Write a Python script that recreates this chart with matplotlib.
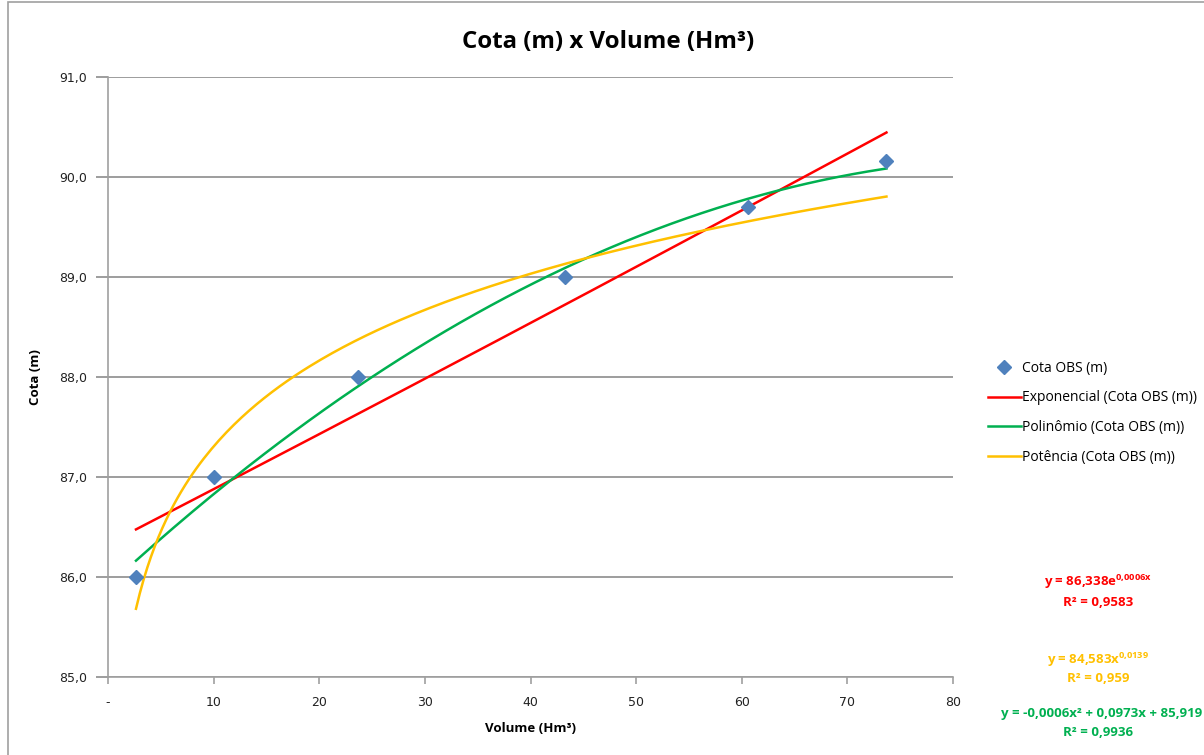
import numpy as np
import matplotlib.pyplot as plt
from matplotlib.patches import Rectangle

plt.rcParams["mathtext.fontset"] = "custom"
plt.rcParams["mathtext.rm"] = "Open Sans:bold"
plt.rcParams["mathtext.it"] = "Open Sans:bold"
plt.rcParams["mathtext.bf"] = "Open Sans:bold"

volume = np.array([2.65, 10.0, 23.7, 43.3, 60.6, 73.7])
cota = np.array([86.0, 87.0, 88.0, 89.0, 89.7, 90.16])

x_ticks = [0, 10, 20, 30, 40, 50, 60, 70, 80]
x_ticklabels = ["-", "10", "20", "30", "40", "50", "60", "70", "80"]
y_ticks = [85, 86, 87, 88, 89, 90, 91]
y_ticklabels = ["85,0", "86,0", "87,0", "88,0", "89,0", "90,0", "91,0"]

c_pts = "#4F81BD"
c_exp = "#FF0000"
c_pol = "#00B050"
c_pot = "#FFC000"

# trendlines fitted the way Excel does
xs = np.linspace(volume.min(), volume.max(), 200)
b_exp, ln_a = np.polyfit(volume, np.log(cota), 1)
y_exp = np.exp(ln_a) * np.exp(b_exp * xs)
p_pol = np.polyfit(volume, cota, 2)
y_pol = np.polyval(p_pol, xs)
b_pot, ln_ap = np.polyfit(np.log(volume), np.log(cota), 1)
y_pot = np.exp(ln_ap) * xs ** b_pot

fig = plt.figure(figsize=(12.04, 7.55), dpi=100)
fig.patches.append(Rectangle((8 / 1204, -0.1), 1.2, 1.1 - 2 / 755, transform=fig.transFigure,
                             fill=False, edgecolor="#A0A0A0", lw=1.2))

ax = fig.add_axes([108 / 1204, 78 / 755, 845 / 1204, 600 / 755])
ax.plot(volume, cota, linestyle="none", marker="D", markersize=7.5, color=c_pts,
        label="Cota OBS (m)", zorder=5)
ax.plot(xs, y_exp, color=c_exp, lw=1.8, label="Exponencial (Cota OBS (m))")
ax.plot(xs, y_pol, color=c_pol, lw=1.8, label="Polinômio (Cota OBS (m))")
ax.plot(xs, y_pot, color=c_pot, lw=1.8, label="Potência (Cota OBS (m))")

ax.set_xlim(0, 80)
ax.set_ylim(85, 91)
ax.set_xticks(x_ticks)
ax.set_xticklabels(x_ticklabels)
ax.set_yticks(y_ticks)
ax.set_yticklabels(y_ticklabels)
ax.yaxis.grid(True, color="#8C8C8C", lw=1.2)
ax.set_axisbelow(True)
for s in ["top", "right"]:
    ax.spines[s].set_visible(False)
for s in ["left", "bottom"]:
    ax.spines[s].set_color("#A0A0A0")
    ax.spines[s].set_linewidth(1.2)
ax.tick_params(axis="y", direction="out", length=9, width=1.2, color="#8C8C8C",
               labelsize=9, pad=6)
ax.tick_params(axis="x", direction="out", length=5, width=1.2, color="#A0A0A0",
               labelsize=9, pad=9)
for lab in ax.get_xticklabels() + ax.get_yticklabels():
    lab.set_family("DejaVu Sans")
    lab.set_color("#222222")

ax.set_xlabel("Volume (Hm³)", family="Open Sans", fontweight="bold", fontsize=9.5, labelpad=9)
ax.set_ylabel("Cota (m)", family="Open Sans", fontweight="bold", fontsize=9.5, labelpad=12)
fig.text(608 / 1204, 1 - 42 / 755, "Cota (m) x Volume (Hm³)", ha="center", va="center",
         family="Open Sans", fontweight="bold", fontsize=17.3)

leg = fig.legend(loc="upper left", bbox_to_anchor=(985 / 1204, 1 - 358 / 755),
                 frameon=False, prop={"family": "Open Sans", "size": 10},
                 handlelength=2.4, handletextpad=0.1, labelspacing=1.05,
                 borderaxespad=0, borderpad=0.2)

eq_kw = dict(ha="center", va="center", family="Open Sans", fontweight="bold", fontsize=9.5)
cx = 1098 / 1204
fig.text(cx, 1 - 582 / 755, "y = 86,338e$^{0{,}0006x}$", color=c_exp, **eq_kw)
fig.text(cx, 1 - 602 / 755, "R² = 0,9583", color=c_exp, **eq_kw)
fig.text(cx, 1 - 660 / 755, "y = 84,583x$^{0{,}0139}$", color=c_pot, **eq_kw)
fig.text(cx, 1 - 678 / 755, "R² = 0,959", color=c_pot, **eq_kw)
fig.text(cx + 4 / 1204, 1 - 714 / 755, "y = -0,0006x² + 0,0973x + 85,919", color=c_pol, **eq_kw)
fig.text(cx, 1 - 732 / 755, "R² = 0,9936", color=c_pol, **eq_kw)

fig.savefig("out.png", dpi=100)
